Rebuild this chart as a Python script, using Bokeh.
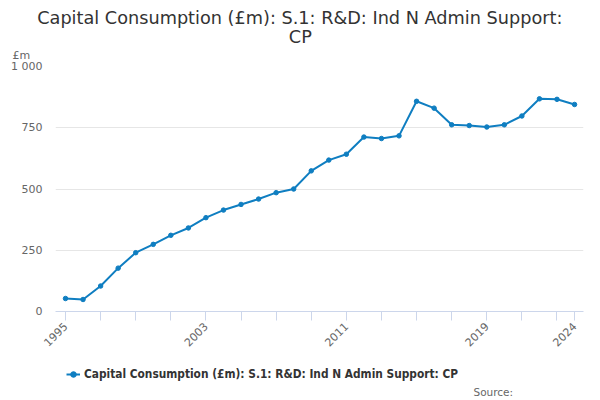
import math
from bokeh.plotting import figure
from bokeh.layouts import column
from bokeh.models import (ColumnDataSource, FixedTicker, Legend, LegendItem, Range1d, Title, Label)
from bokeh.embed import file_html
from bokeh.resources import INLINE

years = list(range(1995, 2025))
values = [53, 49, 104, 177, 240, 274, 311, 341, 383, 414, 437, 459, 485, 500,
          574, 618, 642, 712, 706, 717, 858, 830, 762, 759, 753, 762, 798, 868, 866, 845]
x_ticks = list(range(1995, 2024, 2)) + [2024]
x_labels = {1995: "1995", 2003: "2003", 2011: "2011", 2019: "2019", 2024: "2024"}
y_ticks = [0, 250, 500, 750, 1000]
y_labels = {0: "0", 250: "250", 500: "500", 750: "750", 1000: "1 000"}
title_lines = ["Capital Consumption (£m): S.1: R&D: Ind N Admin Support:", "CP"]
series_name = "Capital Consumption (£m): S.1: R&D: Ind N Admin Support: CP"
unit_label = "£m"
source_text = "Source:"

FONT = "DejaVu Sans"
LEGEND_FONT = "DejaVu Sans Condensed"
LINE = "#0f7ec1"
X0, X1 = 1994.43, 2024.51
Y0, Y1 = 0, 1000

src = ColumnDataSource(dict(x=years, y=values))

p = figure(width=600, height=360, output_backend="svg", toolbar_location=None,
           x_range=Range1d(X0, X1), y_range=Range1d(Y0, Y1),
           min_border_left=55, min_border_right=17, min_border_top=66, min_border_bottom=49)
p.title = None
p.outline_line_color = None
p.background_fill_color = "white"
p.border_fill_color = "white"

r_line = p.line("x", "y", source=src, line_color=LINE, line_width=2)
r_pts = p.scatter("x", "y", source=src, size=4.5, color=LINE)

# x axis
xa = p.xaxis[0]
xa.ticker = FixedTicker(ticks=x_ticks)
xa.major_label_overrides = {t: x_labels.get(t, "") for t in x_ticks}
xa.major_label_orientation = math.pi / 4
xa.axis_line_color = "#ccd6eb"
xa.major_tick_line_color = "#ccd6eb"
xa.major_tick_in = 0
xa.major_tick_out = 9
xa.minor_tick_line_color = None
xa.major_label_text_font = FONT
xa.major_label_text_font_size = "11px"
xa.major_label_text_color = "#666666"
xa.major_label_standoff = 4

# y axis
ya = p.yaxis[0]
ya.ticker = FixedTicker(ticks=y_ticks)
ya.major_label_overrides = y_labels
ya.axis_line_color = None
ya.major_tick_line_color = None
ya.minor_tick_line_color = None
ya.major_tick_in = 0
ya.major_tick_out = 0
ya.major_label_text_font = FONT
ya.major_label_text_font_size = "11px"
ya.major_label_text_color = "#666666"
ya.major_label_standoff = 13

p.xgrid.grid_line_color = None
p.ygrid.grid_line_color = "#e6e6e6"
p.ygrid.ticker = FixedTicker(ticks=y_ticks)

# above: unit label (closest to frame), then title lines
p.add_layout(Title(text=unit_label, align="left", offset=-43, standoff=9,
                   text_font=FONT, text_font_size="11px", text_font_style="normal",
                   text_color="#666666"), "above")
p.add_layout(Title(text=title_lines[1], align="left", offset=233.3, standoff=-8,
                   text_font=FONT, text_font_size="17.7px", text_font_style="normal",
                   text_color="#333333"), "above")
p.add_layout(Title(text=title_lines[0], align="left", offset=-18.3, standoff=2,
                   text_font=FONT, text_font_size="17.7px", text_font_style="normal",
                   text_color="#333333"), "above")

# bottom strip (frame aligned with the main plot): legend and source
p2 = figure(width=600, height=40, output_backend="svg", toolbar_location=None,
            x_range=Range1d(X0, X1), y_range=Range1d(-40, 0),
            min_border_left=0, min_border_right=0, min_border_top=0, min_border_bottom=0)
p2.axis.visible = False
p2.grid.visible = False
p2.outline_line_color = None
p2.background_fill_color = "white"
p2.border_fill_color = "white"
# same series (outside this strip's visible range) so the legend can show its glyph
k_line = p2.line("x", "y", source=src, line_color=LINE, line_width=2)
k_pts = p2.scatter("x", "y", source=src, size=4.5, color=LINE)

legend = Legend(items=[LegendItem(label=series_name, renderers=[k_line, k_pts])],
                location=(11, 18), orientation="horizontal",
                label_text_font=LEGEND_FONT, label_text_font_size="11.8px",
                label_text_font_style="bold",
                label_text_color="#333333", glyph_width=14, glyph_height=16, label_standoff=4,
                label_height=16, padding=0, margin=0, border_line_color=None,
                background_fill_alpha=0)
p2.add_layout(legend, "center")

p2.add_layout(Label(x=X0, y=-40, x_offset=418, y_offset=9, text=source_text,
                    text_baseline="alphabetic", text_font=FONT,
                    text_font_size="10.5px", text_color="#666666"))

layout = column(p, p2, spacing=0)
open("out.html", "w").write(file_html(layout, INLINE))
